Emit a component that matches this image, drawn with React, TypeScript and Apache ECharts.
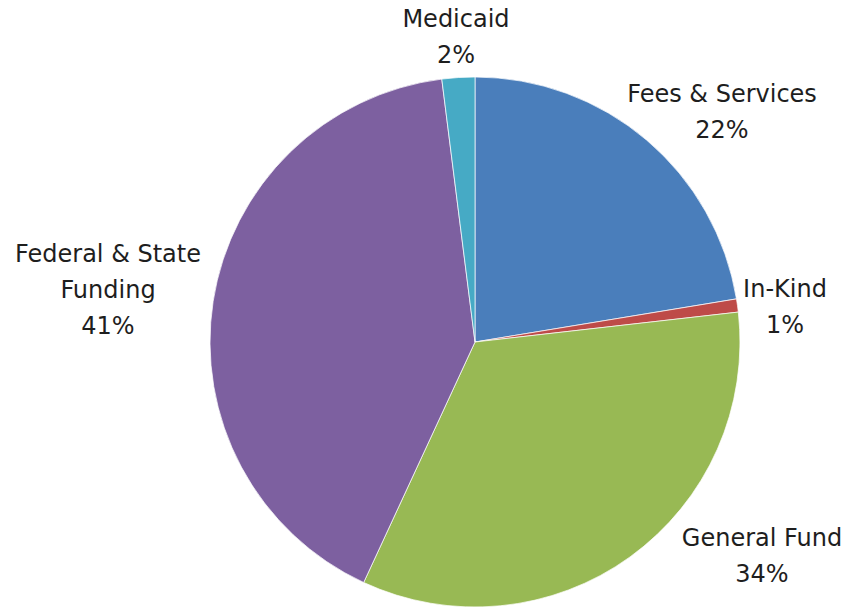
import React, { useEffect, useRef } from "react";
import * as echarts from "echarts";

const categories = ["Fees & Services", "In-Kind", "General Fund", "Federal & State Funding", "Medicaid"];
const labelNames = ["Fees & Services", "In-Kind", "General Fund", "Federal & State\nFunding", "Medicaid"];
const values = [22.4, 0.8, 33.7, 41.1, 2.0];
const colors = ["#4A7EBB", "#BE4B48", "#98B954", "#7D60A0", "#46AAC5"];
const labelPos: [number, number][] = [
  [722, 112],
  [785, 307],
  [762, 556],
  [108, 290],
  [456, 37],
];

export default function App() {
  const ref = useRef<HTMLDivElement>(null);
  useEffect(() => {
    if (!ref.current) return;
    const chart = echarts.init(ref.current, undefined, { renderer: "svg" });
    chart.setOption({
      animation: false,
      backgroundColor: "#ffffff",
      series: [
        {
          type: "pie",
          center: [475, 342],
          radius: 265,
          startAngle: 90,
          clockwise: true,
          data: categories.map((c, i) => ({
            name: c,
            value: values[i],
            itemStyle: { color: colors[i] },
          })),
          itemStyle: { borderColor: "rgba(255,255,255,0.7)", borderWidth: 1 },
          label: {
            show: true,
            position: "outside",
            fontFamily: "DejaVu Sans",
            fontSize: 24,
            lineHeight: 36,
            color: "#1e1e1e",
            align: "center",
            overflow: "none",
            formatter: (p: any) => `${labelNames[p.dataIndex]}\n${Math.round(p.percent)}%`,
          },
          labelLine: { show: false },
          labelLayout: (p: any) => ({
            x: labelPos[p.dataIndex][0],
            y: labelPos[p.dataIndex][1],
            align: "center",
            verticalAlign: "middle",
          }),
          emphasis: { disabled: true },
        },
      ],
    });
    return () => chart.dispose();
  }, []);
  return (
    <div
      ref={ref}
      style={{ position: "absolute", left: 0, top: 0, width: 860, height: 612 }}
    />
  );
}
